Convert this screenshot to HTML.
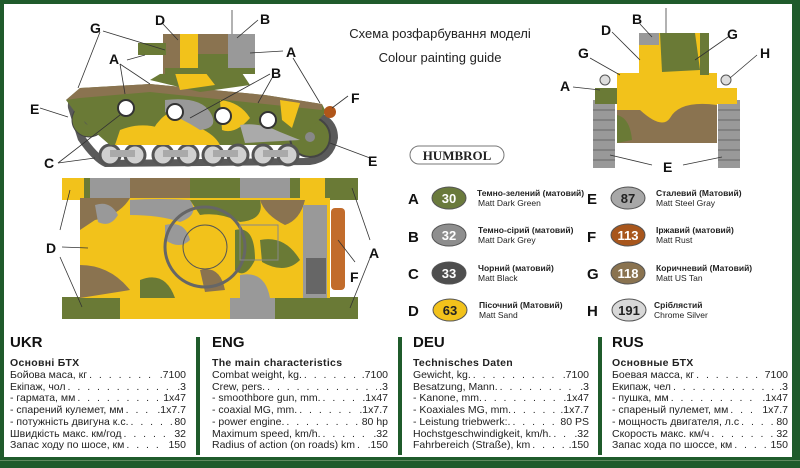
<!DOCTYPE html>
<html><head><meta charset="utf-8"><style>
*{margin:0;padding:0;box-sizing:border-box}
body{width:800px;height:468px;overflow:hidden;background:#fff;font-family:"Liberation Sans",Arial,sans-serif;position:relative}
.col{position:absolute;top:334px;width:176px;color:#222}
.col h2{font-size:15px;font-weight:bold;line-height:18px;margin-bottom:5px;color:#111}
.col h3{font-size:10.5px;font-weight:bold;line-height:13px;margin-bottom:0px;letter-spacing:0.3px}
.row{display:flex;justify-content:space-between;font-size:10.5px;line-height:11.7px}
.row span.d{flex:1;overflow:hidden;white-space:nowrap;letter-spacing:2px;margin:0 2px}
.div{position:absolute;top:337px;width:4px;height:118px;background:#1f5b2b}
</style></head><body>
<svg width="800" height="468" style="position:absolute;left:0;top:0" font-family="Liberation Sans,Arial,sans-serif">
<rect x="0" y="0" width="800" height="4" fill="#1f5b2b"/>
<rect x="0" y="0" width="4" height="468" fill="#1f5b2b"/>
<rect x="792" y="0" width="8" height="468" fill="#1f5b2b"/>
<rect x="0" y="457" width="800" height="11" fill="#1f5b2b"/>
<rect x="0" y="460" width="800" height="1" fill="#5f8a5f"/>

<!-- ===== Side view ===== -->
<path d="M68,108 Q66,90 90,92 L310,110 Q338,115 338,138 Q334,162 310,165 L105,167 Q93,162 78,140 Z" fill="#5a5a5a"/>
<path d="M78,112 Q78,98 92,100 L308,118 Q328,122 328,138 Q326,156 308,158 L108,160 Q97,154 84,135 Z" fill="#fff"/>
<path d="M78,112 Q78,98 92,100 L308,118 L300,145 L110,145 L95,132Z" fill="#6a7a36"/>
<circle cx="89" cy="120" r="17" fill="#6a7a36" stroke="#444"/>
<circle cx="89" cy="120" r="5" fill="#555"/>
<circle cx="310" cy="137" r="20" fill="#6a7a36" stroke="#444" stroke-width="2"/>
<circle cx="310" cy="137" r="5" fill="#888"/>
<g fill="#d0d0d0" stroke="#555" stroke-width="3">
<circle cx="110" cy="155" r="10"/><circle cx="135" cy="155" r="10"/>
<circle cx="163" cy="155" r="10"/><circle cx="188" cy="155" r="10"/>
<circle cx="213" cy="155" r="10"/><circle cx="238" cy="155" r="10"/>
<circle cx="263" cy="155" r="10"/><circle cx="288" cy="155" r="10"/>
</g>
<g fill="#aaa"><rect x="110" y="150" width="25" height="7"/><rect x="163" y="150" width="25" height="7"/><rect x="213" y="150" width="25" height="7"/><rect x="263" y="150" width="25" height="7"/></g>
<path d="M66,100 L80,88 L150,84 L265,95 L322,104 L326,112 L300,140 L110,145 L95,132 L75,112 Z" fill="#6a7a36"/>
<path d="M66,100 L80,88 L150,84 L265,95 L322,104 L322,110 L150,92 L80,98 Z" fill="#8a7350"/>
<path d="M120,130 Q140,122 160,128 Q165,140 150,145 L115,145Z" fill="#f2c21b"/>
<path d="M160,120 Q170,108 190,112 L200,128 Q215,135 220,145 L150,145 Q150,130 160,120Z" fill="#f2c21b"/>
<path d="M165,100 Q200,96 210,112 Q220,128 200,130 Q185,120 165,112Z" fill="#999"/>
<path d="M220,100 Q240,102 250,118 Q235,135 222,130 Z" fill="#f2c21b"/>
<path d="M240,125 Q260,122 280,132 L300,140 L245,143Z" fill="#aaa"/>
<path d="M280,100 L300,103 L292,128 L282,120Z" fill="#f2c21b"/>
<g fill="#fff" stroke="#333" stroke-width="2"><circle cx="126" cy="108" r="8"/><circle cx="175" cy="112" r="8"/><circle cx="223" cy="116" r="8"/><circle cx="268" cy="120" r="8"/></g>
<path d="M150,80 L160,74 L240,70 L250,85 L200,92 Z" fill="#6a7a36"/>
<path d="M175,73 L205,72 L215,85 L180,90Z" fill="#f2c21b"/>
<rect x="163" y="34" width="92" height="40" fill="#6a7a36"/>
<rect x="180" y="34" width="18" height="38" fill="#f2c21b"/>
<rect x="198" y="34" width="30" height="20" fill="#8a7350"/>
<rect x="228" y="34" width="27" height="38" fill="#999"/>
<rect x="163" y="34" width="17" height="40" fill="#8a7350"/>
<rect x="165" y="68" width="90" height="6" fill="#6a7a36"/>
<rect x="138" y="43" width="28" height="12" fill="#6a7a36"/>
<line x1="232" y1="10" x2="232" y2="34" stroke="#666"/>
<circle cx="330" cy="112" r="6" fill="#b0561a"/>
<g stroke="#333" stroke-width="0.8" fill="none">
<line x1="100" y1="32" x2="78" y2="88"/><line x1="103" y1="31" x2="165" y2="50"/>
<line x1="163" y1="24" x2="178" y2="40"/><line x1="258" y1="20" x2="237" y2="38"/>
<line x1="283" y1="51" x2="250" y2="53"/><line x1="127" y1="60" x2="145" y2="55"/>
<line x1="120" y1="64" x2="150" y2="84"/><line x1="120" y1="64" x2="125" y2="94"/>
<line x1="293" y1="58" x2="320" y2="103"/><line x1="270" y1="74" x2="190" y2="118"/>
<line x1="272" y1="78" x2="258" y2="103"/><line x1="40" y1="108" x2="68" y2="117"/>
<line x1="348" y1="96" x2="332" y2="108"/><line x1="58" y1="163" x2="120" y2="115"/>
<line x1="58" y1="163" x2="95" y2="158"/><line x1="370" y1="158" x2="330" y2="143"/>
</g>
<g font-size="14" font-weight="bold" fill="#111">
<text x="90" y="33">G</text><text x="155" y="25">D</text><text x="260" y="24">B</text>
<text x="109" y="64">A</text><text x="286" y="57">A</text><text x="271" y="78">B</text>
<text x="30" y="114">E</text><text x="351" y="103">F</text><text x="44" y="168">C</text><text x="368" y="166">E</text>
</g>

<!-- ===== Top view ===== -->
<rect x="62" y="178" width="296" height="22" fill="#6a7a36"/>
<rect x="62" y="178" width="22" height="22" fill="#f2c21b"/>
<rect x="90" y="178" width="40" height="22" fill="#999"/>
<rect x="130" y="178" width="60" height="22" fill="#8a7350"/>
<rect x="240" y="178" width="50" height="22" fill="#999"/>
<rect x="300" y="178" width="25" height="22" fill="#f2c21b"/>
<rect x="62" y="297" width="296" height="22" fill="#6a7a36"/>
<rect x="120" y="297" width="110" height="22" fill="#f2c21b"/>
<rect x="230" y="297" width="45" height="22" fill="#999"/>
<rect x="80" y="198" width="250" height="100" fill="#f2c21b"/>
<path d="M80,198 L130,198 Q120,215 95,220 L80,230Z" fill="#8a7350"/>
<path d="M95,205 Q110,200 118,215 Q110,228 98,222Z" fill="#999"/>
<path d="M130,200 Q160,198 190,200 Q200,215 180,222 Q160,215 130,215Z" fill="#999"/>
<path d="M190,200 L260,200 Q265,220 240,222 Q220,212 200,215Z" fill="#6a7a36"/>
<path d="M260,200 L305,200 Q300,220 285,225 Q265,215 260,200Z" fill="#8a7350"/>
<path d="M80,265 Q110,265 130,290 L80,298Z" fill="#8a7350"/>
<path d="M140,280 Q165,270 175,298 L140,298Z" fill="#6a7a36"/>
<path d="M165,225 Q185,220 190,240 Q180,250 165,240Z" fill="#999"/>
<path d="M200,270 Q220,265 225,290 L205,292Z" fill="#8a7350"/>
<path d="M235,230 Q255,225 255,260 Q245,280 235,270Z" fill="#6a7a36"/>
<path d="M240,275 Q265,270 270,298 L240,298Z" fill="#999"/>
<path d="M260,240 Q285,235 300,260 Q285,275 262,262Z" fill="#6a7a36"/>
<rect x="303" y="205" width="24" height="93" fill="#999"/>
<rect x="306" y="258" width="20" height="36" fill="#666"/>
<rect x="331" y="208" width="14" height="82" rx="4" fill="#c26c2c"/>
<circle cx="205" cy="247" r="40" fill="none" stroke="#666" stroke-width="3"/>
<circle cx="205" cy="247" r="22" fill="none" stroke="#555" stroke-width="1"/>
<rect x="240" y="225" width="38" height="35" fill="none" stroke="#888"/>
<g stroke="#333" stroke-width="0.8"><line x1="60" y1="230" x2="70" y2="190"/><line x1="62" y1="247" x2="88" y2="248"/><line x1="60" y1="257" x2="82" y2="307"/><line x1="355" y1="262" x2="338" y2="240"/><line x1="370" y1="240" x2="352" y2="188"/><line x1="370" y1="258" x2="350" y2="308"/></g>
<g font-size="14" font-weight="bold" fill="#111"><text x="46" y="253">D</text><text x="350" y="282">F</text><text x="369" y="258">A</text></g>

<!-- ===== Front view ===== -->
<rect x="593" y="100" width="22" height="68" fill="#999"/>
<rect x="718" y="100" width="22" height="68" fill="#999"/>
<g stroke="#666" stroke-width="1"><line x1="593" y1="110" x2="615" y2="110"/><line x1="593" y1="120" x2="615" y2="120"/><line x1="593" y1="130" x2="615" y2="130"/><line x1="593" y1="140" x2="615" y2="140"/><line x1="593" y1="150" x2="615" y2="150"/><line x1="593" y1="160" x2="615" y2="160"/><line x1="718" y1="110" x2="740" y2="110"/><line x1="718" y1="120" x2="740" y2="120"/><line x1="718" y1="130" x2="740" y2="130"/><line x1="718" y1="140" x2="740" y2="140"/><line x1="718" y1="150" x2="740" y2="150"/><line x1="718" y1="160" x2="740" y2="160"/></g>
<rect x="595" y="88" width="142" height="16" fill="#f2c21b"/>
<rect x="595" y="88" width="25" height="16" fill="#6a7a36"/>
<rect x="617" y="73" width="100" height="70" fill="#8a7350"/>
<path d="M617,73 L717,73 L717,105 Q680,100 670,118 Q662,130 640,110 L617,110Z" fill="#f2c21b"/>
<path d="M617,115 Q630,118 632,140 L617,143Z" fill="#6a7a36"/>
<rect x="639" y="33" width="70" height="42" fill="#f2c21b"/>
<rect x="639" y="33" width="20" height="12" fill="#999"/>
<path d="M660,33 L695,33 L700,70 L662,72Z" fill="#6a7a36"/>
<rect x="700" y="33" width="9" height="42" fill="#6a7a36"/>
<circle cx="605" cy="80" r="5" fill="#ddd" stroke="#555"/><circle cx="726" cy="80" r="5" fill="#ddd" stroke="#555"/>
<line x1="666" y1="8" x2="666" y2="33" stroke="#666"/>
<g stroke="#333" stroke-width="0.8"><line x1="612" y1="32" x2="640" y2="60"/><line x1="640" y1="24" x2="652" y2="37"/><line x1="590" y1="58" x2="620" y2="75"/><line x1="728" y1="37" x2="695" y2="60"/><line x1="757" y1="55" x2="730" y2="78"/><line x1="573" y1="87" x2="600" y2="90"/><line x1="652" y1="165" x2="610" y2="155"/><line x1="683" y1="165" x2="722" y2="157"/></g>
<g font-size="14" font-weight="bold" fill="#111"><text x="601" y="35">D</text><text x="632" y="24">B</text><text x="578" y="58">G</text><text x="727" y="39">G</text><text x="760" y="58">H</text><text x="560" y="91">A</text><text x="663" y="172">E</text></g>

<text x="440" y="38" font-size="13" text-anchor="middle" fill="#222">Схема розфарбування моделі</text>
<text x="440" y="62" font-size="13" text-anchor="middle" fill="#222">Colour painting guide</text>
<rect x="410" y="146" width="94" height="18" rx="9" fill="#fff" stroke="#777"/>
<text x="457" y="160" font-size="13" font-weight="bold" text-anchor="middle" fill="#222" font-family="Liberation Serif,serif">HUMBROL</text>

<g font-size="15" font-weight="bold" fill="#111">
<text x="408" y="204">A</text><text x="408" y="242">B</text><text x="408" y="279">C</text><text x="408" y="316">D</text>
<text x="587" y="204">E</text><text x="587" y="242">F</text><text x="587" y="279">G</text><text x="587" y="316">H</text>
</g>
<g stroke="#555" stroke-width="1">
<ellipse cx="449" cy="198" rx="17" ry="11" fill="#6a7a3c"/><ellipse cx="449" cy="235" rx="17" ry="11" fill="#8e8e8e"/>
<ellipse cx="449" cy="273" rx="17" ry="11" fill="#4e4e4e"/><ellipse cx="450" cy="310" rx="17" ry="11" fill="#f2c21b"/>
<ellipse cx="628" cy="198" rx="17" ry="11" fill="#a8a8a8"/><ellipse cx="628" cy="235" rx="17" ry="11" fill="#a8561c"/>
<ellipse cx="628" cy="273" rx="17" ry="11" fill="#8a7350"/><ellipse cx="629" cy="310" rx="17" ry="11" fill="#d8d8d8"/>
</g>
<g font-size="13" font-weight="bold" text-anchor="middle">
<text x="449" y="203" fill="#fff">30</text><text x="449" y="240" fill="#fff">32</text><text x="449" y="278" fill="#fff">33</text><text x="450" y="315" fill="#222">63</text>
<text x="628" y="203" fill="#222">87</text><text x="628" y="240" fill="#fff">113</text><text x="628" y="278" fill="#fff">118</text><text x="629" y="315" fill="#222">191</text>
</g>
<g font-size="8.5" fill="#222">
<text x="477" y="196" font-weight="bold">Темно-зелений (матовий)</text><text x="478" y="206">Matt Dark Green</text>
<text x="478" y="233" font-weight="bold">Темно-сірий (матовий)</text><text x="478" y="243">Matt Dark Grey</text>
<text x="478" y="271" font-weight="bold">Чорний (матовий)</text><text x="478" y="281">Matt Black</text>
<text x="479" y="308" font-weight="bold">Пісочний (Матовий)</text><text x="479" y="318">Matt Sand</text>
<text x="656" y="196" font-weight="bold">Сталевий (Матовий)</text><text x="656" y="206">Matt Steel Gray</text>
<text x="656" y="233" font-weight="bold">Іржавий (матовий)</text><text x="656" y="243">Matt Rust</text>
<text x="656" y="271" font-weight="bold">Коричневий (Матовий)</text><text x="656" y="281">Matt US Tan</text>
<text x="654" y="308" font-weight="bold">Сріблястий</text><text x="654" y="318">Chrome Silver</text>
</g>
</svg>

<div class="div" style="left:196px"></div>
<div class="div" style="left:398px"></div>
<div class="div" style="left:598px"></div>

<div class="col" style="left:10px">
<h2>UKR</h2><h3>Основні БТХ</h3>
<div class="row"><span>Бойова маса, кг</span><span class="d">. . . . . . . . . . . . . . . . . . . .</span><span>.7100</span></div>
<div class="row"><span>Екіпаж, чол</span><span class="d">. . . . . . . . . . . . . . . . . . . . . . .</span><span>.3</span></div>
<div class="row"><span>- гармата, мм</span><span class="d">. . . . . . . . . . . . . . . . . . . .</span><span>1x47</span></div>
<div class="row"><span>- спарений кулемет, мм</span><span class="d">. . . . . . . . . . . . .</span><span>.1x7.7</span></div>
<div class="row"><span>- потужність двигуна к.с.</span><span class="d">. . . . . . . . . . .</span><span>80</span></div>
<div class="row"><span>Швидкість макс. км/год</span><span class="d">. . . . . . . . . . .</span><span>32</span></div>
<div class="row"><span>Запас ходу по шосе, км</span><span class="d">. . . . . . . . . . .</span><span>150</span></div>
</div>
<div class="col" style="left:212px">
<h2>ENG</h2><h3>The main characteristics</h3>
<div class="row"><span>Combat weight, kg.</span><span class="d">. . . . . . . . . . . . . . . . . . .</span><span>.7100</span></div>
<div class="row"><span>Crew, pers.</span><span class="d">. . . . . . . . . . . . . . . . . . . . . . . . .</span><span>.3</span></div>
<div class="row"><span>- smoothbore gun, mm.</span><span class="d">. . . . . . . . . . . . . .</span><span>.1x47</span></div>
<div class="row"><span>- coaxial MG, mm.</span><span class="d">. . . . . . . . . . . . . . . . . .</span><span>.1x7.7</span></div>
<div class="row"><span>- power engine.</span><span class="d">. . . . . . . . . . . . . . . . . . . . .</span><span>80 hp</span></div>
<div class="row"><span>Maximum speed, km/h.</span><span class="d">. . . . . . . . . . . . .</span><span>.32</span></div>
<div class="row"><span>Radius of action (on roads) km</span><span class="d">. . . . .</span><span>.150</span></div>
</div>
<div class="col" style="left:413px">
<h2>DEU</h2><h3>Technisches Daten</h3>
<div class="row"><span>Gewicht, kg.</span><span class="d">. . . . . . . . . . . . . . . . . . . . . . .</span><span>.7100</span></div>
<div class="row"><span>Besatzung, Mann.</span><span class="d">. . . . . . . . . . . . . . . . . . . . .</span><span>.3</span></div>
<div class="row"><span>- Kanone, mm.</span><span class="d">. . . . . . . . . . . . . . . . . . . . .</span><span>.1x47</span></div>
<div class="row"><span>- Koaxiales MG, mm.</span><span class="d">. . . . . . . . . . . . . . .</span><span>.1x7.7</span></div>
<div class="row"><span>- Leistung triebwerk:.</span><span class="d">. . . . . . . . . . . . . .</span><span>80 PS</span></div>
<div class="row"><span>Hochstgeschwindigkeit, km/h.</span><span class="d">. . . . . . . .</span><span>.32</span></div>
<div class="row"><span>Fahrbereich (Straße), km</span><span class="d">. . . . . . . . . . .</span><span>.150</span></div>
</div>
<div class="col" style="left:612px">
<h2>RUS</h2><h3>Основные БТХ</h3>
<div class="row"><span>Боевая масса, кг</span><span class="d">. . . . . . . . . . . . . . . . . . .</span><span>7100</span></div>
<div class="row"><span>Екипаж, чел</span><span class="d">. . . . . . . . . . . . . . . . . . . . . . . .</span><span>.3</span></div>
<div class="row"><span>- пушка, мм</span><span class="d">. . . . . . . . . . . . . . . . . . . . . . .</span><span>.1x47</span></div>
<div class="row"><span>- спареный пулемет, мм</span><span class="d">. . . . . . . . . . .</span><span>1x7.7</span></div>
<div class="row"><span>- мощность двигателя, л.с</span><span class="d">. . . . . . . . . .</span><span>80</span></div>
<div class="row"><span>Скорость макс. км/ч</span><span class="d">. . . . . . . . . . . . . .</span><span>32</span></div>
<div class="row"><span>Запас хода по шоссе, км</span><span class="d">. . . . . . . . . . .</span><span>150</span></div>
</div>
</body></html>
